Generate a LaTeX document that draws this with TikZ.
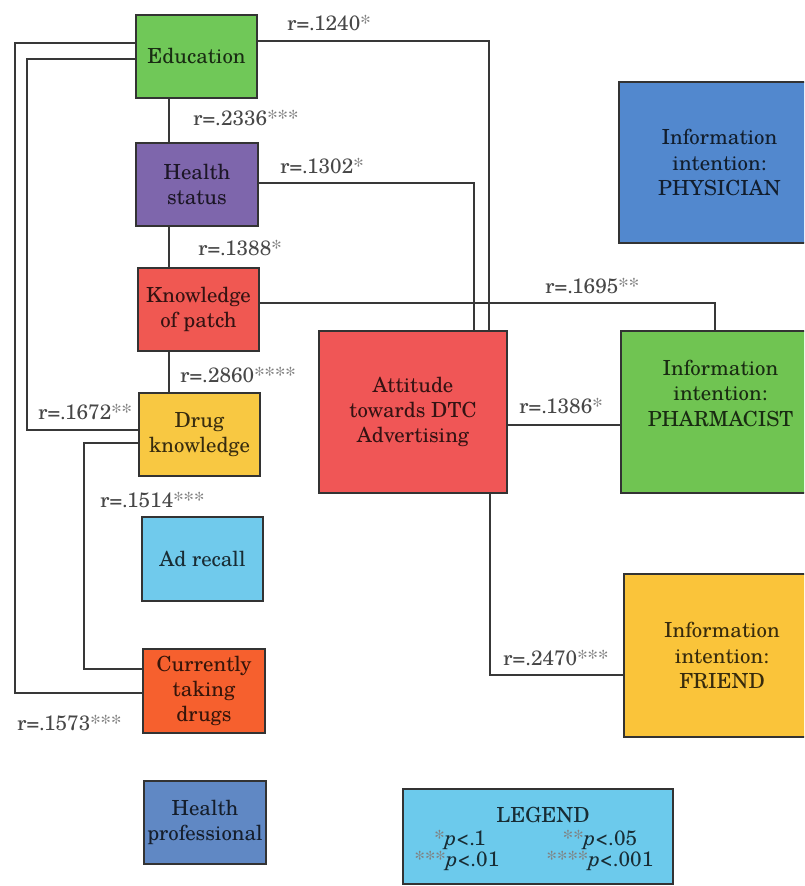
\documentclass[tikz,border=0pt]{standalone}
\usepackage{fontspec}
\setmainfont{texgyreschola}[Extension=.otf, UprightFont=*-regular, ItalicFont=*-italic, BoldFont=*-bold, BoldItalicFont=*-bolditalic]

% box fills
\definecolor{cEdu}{RGB}{112,200,88}
\definecolor{cHealth}{RGB}{126,102,172}
\definecolor{cPatch}{RGB}{240,88,82}
\definecolor{cDrug}{RGB}{248,200,66}
\definecolor{cRecall}{RGB}{112,202,236}
\definecolor{cTaking}{RGB}{246,96,46}
\definecolor{cProf}{RGB}{96,136,196}
\definecolor{cAtt}{RGB}{240,86,86}
\definecolor{cPhys}{RGB}{82,136,206}
\definecolor{cPharm}{RGB}{112,196,82}
\definecolor{cFriend}{RGB}{250,196,58}
\definecolor{cLegend}{RGB}{108,202,236}

\tikzset{
  x=0.5pt, y=-0.5pt,
  txt/.style={font=\fontsize{10.4}{12.7}\selectfont},
  box/.style={txt, draw=black!80, line width=0.8pt, fill=#1, text=#1!22!black,
              align=center, inner sep=0pt},
  link/.style={draw=black!78, line width=1pt},
  rlab/.style={txt, anchor=west, inner sep=0pt, text=black!72},
}
% significance stars: full-size asterisks in a lighter grey
\newcommand\sig[1]{{\color{black!50}#1}}

\begin{document}
\begin{tikzpicture}
\useasboundingbox (0,0) rectangle (804,886);
\clip (0,0) rectangle (804,886);
\fill[white] (0,0) rectangle (804,886);

% predictor column
\node[box=cEdu, minimum width=60.5pt, minimum height=41.5pt] (edu) at (196.5,56.5) {Education};
\node[box=cHealth, minimum width=61pt, minimum height=41.5pt] (hs) at (197,184.5) {Health\\status};
\node[box=cPatch, minimum width=60.5pt, minimum height=41.5pt] (kp) at (198.5,309.5) {Knowledge\\of patch};
\node[box=cDrug, minimum width=60.5pt, minimum height=41.5pt] (dk) at (199.5,434.5) {Drug\\knowledge};
\node[box=cRecall, minimum width=60.5pt, minimum height=42pt] (ar) at (202.5,559) {Ad recall};
\node[box=cTaking, minimum width=61pt, minimum height=42pt] (ctd) at (204,691) {Currently\\taking\\drugs};
\node[box=cProf, minimum width=61pt, minimum height=41.5pt] (hp) at (205,822.5) {Health\\professional};

% attitude and outcomes
\node[box=cAtt, minimum width=94pt, minimum height=81pt] (att) at (413,412) {Attitude\\towards DTC\\Advertising};
\node[box=cPhys, minimum width=100.5pt, minimum height=80.5pt] (phy) at (719.5,162.5) {Information\\intention:\\PHYSICIAN};
\node[box=cPharm, minimum width=99.5pt, minimum height=81pt] (pha) at (720.5,412) {Information\\intention:\\PHARMACIST\\[6pt]};
\node[box=cFriend, minimum width=98pt, minimum height=81.5pt] (fri) at (722,655.5) {Information\\intention:\\FRIEND};

% legend
\node[box=cLegend, minimum width=135pt, minimum height=47.5pt] (leg) at (538,836.5) {};
\node[txt, text=cLegend!22!black, inner sep=0pt] (legT) at (543,815) {LEGEND};
\node[txt, text=cLegend!22!black, inner sep=0pt] (l1) at (460,840) {\sig{*}\textit{p}<.1};
\node[txt, text=cLegend!22!black, inner sep=0pt] (l2) at (600,840) {\sig{**}\textit{p}<.05};
\node[txt, text=cLegend!22!black, inner sep=0pt] (l3) at (457,861) {\sig{***}\textit{p}<.01};
\node[txt, text=cLegend!22!black, inner sep=0pt] (l4) at (600,861) {\sig{****}\textit{p}<.001};

% route points
\coordinate (v) at (169,0);
\coordinate (cEA) at (489,41);
\coordinate (cHA) at (474,183);
\coordinate (cKP) at (715,303);
\coordinate (hAP) at (0,425);
\coordinate (cAF) at (490,675);
\coordinate (o1) at (15,43);
\coordinate (o2) at (15,693);
\coordinate (i1) at (27,59);
\coordinate (i2) at (27,430);
\coordinate (d1) at (84,443);
\coordinate (d2) at (84,669);

% connectors
\draw[link] (edu.south -| v) -- (hs.north -| v);
\draw[link] (hs.south -| v) -- (kp.north -| v);
\draw[link] (kp.south -| v) -- (dk.north -| v);
\draw[link] (edu.east |- cEA) -- (cEA) -- (att.north -| cEA);
\draw[link] (hs.east |- cHA) -- (cHA) -- (att.north -| cHA);
\draw[link] (kp.east |- cKP) -- (cKP) -- (pha.north -| cKP);
\draw[link] (att.east |- hAP) -- (pha.west |- hAP);
\draw[link] (att.south -| cAF) -- (cAF) -- (fri.west |- cAF);
\draw[link] (edu.west |- o1) -- (o1) -- (o2) -- (ctd.west |- o2);
\draw[link] (edu.west |- i1) -- (i1) -- (i2) -- (dk.west |- i2);
\draw[link] (dk.west |- d1) -- (d1) -- (d2) -- (ctd.west |- d2);

% correlation labels
\node[rlab] (r1) at (287,23) {r=.1240\sig{*}};
\node[rlab] (r2) at (193,118) {r=.2336\sig{***}};
\node[rlab] (r3) at (280,166) {r=.1302\sig{*}};
\node[rlab] (r4) at (198,248) {r=.1388\sig{*}};
\node[rlab] (r5) at (180,375) {r=.2860\sig{****}};
\node[rlab] (r6) at (38,412) {r=.1672\sig{**}};
\node[rlab] (r7) at (100,500) {r=.1514\sig{***}};
\node[rlab] (r8) at (17,723) {r=.1573\sig{***}};
\node[rlab] (r9) at (545,286) {r=.1695\sig{**}};
\node[rlab] (r10) at (519,406) {r=.1386\sig{*}};
\node[rlab] (r11) at (503,658) {r=.2470\sig{***}};
\end{tikzpicture}
\end{document}
